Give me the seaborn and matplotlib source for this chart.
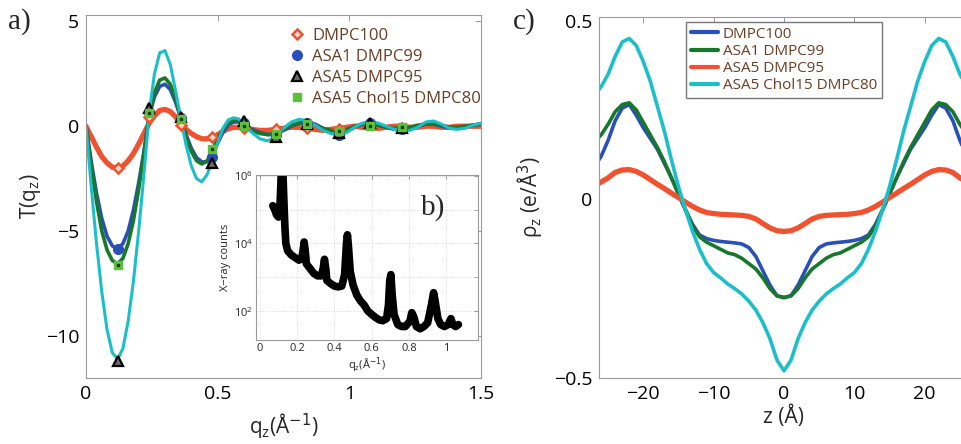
import numpy as np
import pandas as pd
import seaborn as sns
import matplotlib
matplotlib.use("Agg")
from matplotlib import pyplot as plt
from matplotlib.ticker import FixedLocator, NullFormatter

# ---------------- panel a: T(qz) ----------------
q_a = [0.00, 0.02, 0.04, 0.06, 0.08, 0.10, 0.12, 0.14, 0.16, 0.18, 0.20, 0.22, 0.24, 0.26, 0.28, 0.30,
       0.32, 0.34, 0.36, 0.38, 0.40, 0.42, 0.44, 0.46, 0.48, 0.50, 0.52, 0.54, 0.56, 0.58, 0.60,
       0.63, 0.66, 0.69, 0.72, 0.75, 0.78, 0.81, 0.84, 0.87, 0.90, 0.93, 0.96, 0.99, 1.02, 1.05,
       1.08, 1.11, 1.14, 1.17, 1.20, 1.23, 1.26, 1.29, 1.32, 1.35, 1.38, 1.41, 1.44, 1.47, 1.50]

T_orange = [0, -0.5, -1.0, -1.45, -1.75, -1.95, -2.0, -1.9, -1.65, -1.3, -0.85, -0.35, 0.15, 0.5, 0.75, 0.8,
            0.7, 0.45, 0.1, -0.15, -0.35, -0.5, -0.6, -0.6, -0.55, -0.4, -0.25, -0.12, -0.05, -0.05, -0.1,
            -0.15, -0.2, -0.2, -0.15, -0.1, -0.05, -0.05, -0.1, -0.15, -0.2, -0.15, -0.1, -0.05, 0.0, -0.05,
            -0.1, -0.1, -0.05, 0.0, 0.0, -0.05, -0.05, 0.0, 0.0, -0.05, -0.05, 0.0, 0.0, 0.0, 0.0]
T_blue = [0, -1.7, -3.2, -4.4, -5.25, -5.7, -5.85, -5.6, -5.0, -4.0, -2.7, -1.2, 0.5, 1.4, 1.9, 2.0,
          1.75, 1.15, 0.4, -0.4, -1.05, -1.5, -1.7, -1.7, -1.35, -0.8, -0.3, 0.05, 0.2, 0.2, 0.05,
          -0.15, -0.3, -0.4, -0.4, -0.2, 0.0, 0.15, 0.2, 0.1, -0.1, -0.3, -0.4, -0.25, -0.05, 0.1,
          0.15, 0.05, -0.05, -0.15, -0.2, -0.15, 0.0, 0.1, 0.1, 0.0, -0.1, -0.1, -0.05, 0.05, 0.1]
T_green = [0, -1.9, -3.6, -5.0, -5.9, -6.4, -6.55, -6.3, -5.6, -4.5, -3.0, -1.3, 0.55, 1.6, 2.2, 2.3,
           2.0, 1.3, 0.4, -0.5, -1.2, -1.65, -1.8, -1.65, -1.15, -0.6, -0.15, 0.15, 0.3, 0.25, 0.05,
           -0.2, -0.35, -0.4, -0.35, -0.15, 0.05, 0.15, 0.15, 0.05, -0.1, -0.2, -0.25, -0.15, 0.0, 0.1,
           0.1, 0.05, -0.05, -0.1, -0.1, -0.05, 0.05, 0.1, 0.1, 0.05, -0.05, -0.05, 0.0, 0.05, 0.1]
T_cyan = [0, -2.9, -5.6, -7.9, -9.7, -10.8, -11.1, -10.6, -9.3, -7.4, -5.0, -2.3, 0.65, 2.5, 3.5, 3.6,
          2.95, 1.7, 0.35, -0.9, -1.9, -2.5, -2.65, -2.3, -1.6, -0.8, -0.1, 0.3, 0.4, 0.35, 0.05,
          -0.3, -0.6, -0.7, -0.5, -0.1, 0.2, 0.33, 0.25, 0.05, -0.2, -0.35, -0.42, -0.3, -0.05, 0.15,
          0.2, 0.15, 0.0, -0.15, -0.2, -0.2, -0.05, 0.2, 0.25, 0.1, -0.1, -0.15, -0.1, 0.05, 0.15]

# sampled points (markers)
q_mk = [0.12, 0.24, 0.36, 0.48, 0.60, 0.72, 0.84, 0.96, 1.08, 1.20]
mk_dmpc100 = [-2.0, 0.45, 0.05, -0.5, -0.1, -0.15, -0.1, -0.15]
mk_asa1 = [-5.85, 0.7, 0.4, -1.45, 0.15, -0.4, 0.15, -0.4, 0.15, -0.15]
mk_asa5 = [-11.2, 0.85, 0.45, -1.75, 0.25, -0.5, 0.1, -0.3, 0.15, -0.1]
mk_chol = [-6.6, 0.65, 0.35, -1.1, 0.0, -0.35, 0.1, -0.25, 0.0, -0.05]

# ---------------- panel b: X-ray counts ----------------
q_b = [0.07, 0.08, 0.09, 0.10, 0.105, 0.11, 0.115, 0.12, 0.125, 0.13, 0.135, 0.14, 0.15, 0.17, 0.19,
       0.21, 0.225, 0.232, 0.238, 0.244, 0.25, 0.27, 0.29, 0.31, 0.33, 0.34, 0.347, 0.354, 0.36,
       0.38, 0.40, 0.42, 0.44, 0.455, 0.465, 0.47, 0.475, 0.485, 0.50, 0.52, 0.54, 0.56, 0.58,
       0.60, 0.62, 0.64, 0.66, 0.68, 0.69, 0.697, 0.703, 0.71, 0.72, 0.74, 0.76, 0.78, 0.805,
       0.815, 0.825, 0.84, 0.86, 0.88, 0.90, 0.92, 0.932, 0.94, 0.955, 0.97, 0.99, 1.01, 1.025,
       1.035, 1.05, 1.065]
counts_b = [1.3e5, 1.0e5, 7e4, 6e4, 8e4, 2e5, 1e6, 3e6, 1e6, 1.5e5, 3e4, 1e4, 6e3, 4.5e3, 3.8e3,
            3.2e3, 3.5e3, 6e3, 1.1e4, 6e3, 2.5e3, 1.8e3, 1.3e3, 1.1e3, 1.1e3, 1.8e3, 3.4e3, 1.8e3, 8e2,
            6.5e2, 5.5e2, 5.2e2, 5.5e2, 1.2e3, 1.0e4, 1.8e4, 9e3, 1.5e3, 6e2, 3e2, 2e2, 1.5e2, 1.0e2,
            80, 65, 55, 52, 60, 1.5e2, 8e2, 1.2e3, 3e2, 80, 40, 35, 35, 50,
            90, 70, 35, 30, 35, 45, 1.5e2, 3.5e2, 2e2, 60, 40, 35, 40, 60,
            40, 35, 40]

# ---------------- panel c: electron density ----------------
z_c = list(range(-27, 28))
rho_blue = [0.09, 0.12, 0.165, 0.22, 0.255, 0.265, 0.235, 0.2, 0.17, 0.14, 0.1, 0.06, 0.015, -0.03,
            -0.07, -0.1, -0.11, -0.115, -0.118, -0.12, -0.122, -0.125, -0.135, -0.16, -0.2, -0.24, -0.27,
            -0.275,
            -0.27, -0.24, -0.2, -0.16, -0.135, -0.125, -0.122, -0.12, -0.118, -0.115, -0.11, -0.1, -0.07,
            -0.03, 0.015, 0.06, 0.1, 0.14, 0.17, 0.2, 0.235, 0.265, 0.255, 0.22, 0.165, 0.12, 0.09]
rho_green = [0.16, 0.18, 0.21, 0.245, 0.265, 0.27, 0.25, 0.215, 0.18, 0.145, 0.105, 0.06, 0.015, -0.03,
             -0.075, -0.105, -0.12, -0.13, -0.14, -0.15, -0.155, -0.165, -0.18, -0.195, -0.22, -0.25, -0.27,
             -0.275,
             -0.27, -0.25, -0.22, -0.195, -0.18, -0.165, -0.155, -0.15, -0.14, -0.13, -0.12, -0.105, -0.075,
             -0.03, 0.015, 0.06, 0.105, 0.145, 0.18, 0.215, 0.25, 0.27, 0.265, 0.245, 0.21, 0.18, 0.16]
rho_orange = [0.04, 0.048, 0.06, 0.075, 0.082, 0.083, 0.078, 0.068, 0.055, 0.042, 0.03, 0.017, 0.005, -0.008,
              -0.02, -0.03, -0.037, -0.04, -0.042, -0.043, -0.044, -0.045, -0.048, -0.055, -0.068, -0.08,
              -0.088, -0.09,
              -0.088, -0.08, -0.068, -0.055, -0.048, -0.045, -0.044, -0.043, -0.042, -0.04, -0.037, -0.03,
              -0.02, -0.008, 0.005, 0.017, 0.03, 0.042, 0.055, 0.068, 0.078, 0.083, 0.082, 0.075, 0.06,
              0.048, 0.04]
rho_cyan = [0.29, 0.315, 0.35, 0.40, 0.44, 0.45, 0.43, 0.385, 0.33, 0.26, 0.19, 0.11, 0.035, -0.03,
            -0.09, -0.14, -0.18, -0.205, -0.22, -0.237, -0.25, -0.265, -0.285, -0.31, -0.345, -0.39, -0.45,
            -0.48,
            -0.45, -0.39, -0.345, -0.31, -0.285, -0.265, -0.25, -0.237, -0.22, -0.205, -0.18, -0.14, -0.09,
            -0.03, 0.035, 0.11, 0.19, 0.26, 0.33, 0.385, 0.43, 0.45, 0.44, 0.40, 0.35, 0.315, 0.29]

labels = ["DMPC100", "ASA1 DMPC99", "ASA5 DMPC95", "ASA5 Chol15 DMPC80"]
c_orange = "#f0512e"
c_blue = "#2b4fb8"
c_green = "#17782b"
c_cyan = "#1cbfc9"
txt_brown = "#6b3d22"

sns.set_style("white")
plt.rcParams['font.family'] = ['Open Sans', 'DejaVu Sans']
plt.rcParams['axes.unicode_minus'] = True

fig = plt.figure(figsize=(9.62, 4.44), dpi=100)
W, H = 962.0, 444.0
ax_a = fig.add_axes([86 / W, (H - 378) / H, (481 - 86) / W, (378 - 15) / H])
ax_b = fig.add_axes([256 / W, (H - 340) / H, (478 - 256) / W, (340 - 175) / H])
ax_c = fig.add_axes([599 / W, (H - 378) / H, (969 - 599) / W, (378 - 17) / H])


def matlab_axes(ax, size=14):
    for s in ax.spines.values():
        s.set_color("#9a9a9a")
        s.set_linewidth(0.8)
    ax.tick_params(direction="in", top=True, right=True, length=4, width=0.7,
                   color="#9a9a9a", labelsize=size, labelcolor="black", pad=5)


# ----- panel a -----
df_a = pd.DataFrame({"q": q_a * 4,
                     "T": T_orange + T_blue + T_green + T_cyan,
                     "s": ["o"] * len(q_a) + ["b"] * len(q_a) + ["g"] * len(q_a) + ["c"] * len(q_a)})
sns.lineplot(data=df_a, x="q", y="T", hue="s", palette={"o": c_orange, "b": c_blue, "g": c_green, "c": c_cyan},
             size="s", sizes={"o": 3.8, "b": 2.6, "g": 2.6, "c": 2.2}, estimator=None, sort=False,
             legend=False, ax=ax_a)

ax_a.plot(q_mk[:len(mk_dmpc100)], mk_dmpc100, ls="none", marker="D", ms=5, mfc="#ffd9c8",
          mec=c_orange, mew=1.8, label=labels[0])
ax_a.plot(q_mk, mk_asa1, ls="none", marker="o", ms=7, mfc=c_blue, mec=c_blue, label=labels[1])
ax_a.plot(q_mk, mk_asa5, ls="none", marker="^", ms=6.5, mfc="#6a6a6a", mec="black", mew=1.6, label=labels[2])
ax_a.plot(q_mk, mk_chol, ls="none", marker="s", ms=6, mfc="#5cc03c", mec="#5cc03c", label=labels[3])
ax_a.plot(q_mk, mk_chol, ls="none", marker="s", ms=1.6, mfc="#1d3d10", mec="#1d3d10")

ax_a.set_xlim(0, 1.5)
ax_a.set_ylim(-12, 5.3)
ax_a.set_xticks([0, 0.5, 1, 1.5])
ax_a.set_xticklabels(["0", "0.5", "1", "1.5"])
ax_a.set_yticks([-10, -5, 0, 5])
matlab_axes(ax_a)
ax_a.set_xlabel("q$_\\mathregular{z}$(Å$^{-1}$)", fontsize=15, labelpad=6)
ax_a.set_ylabel("T(q$_\\mathregular{z}$)", fontsize=15, labelpad=2)
leg_a = ax_a.legend(loc="upper left", bbox_to_anchor=(0.48, 1.0), frameon=False, fontsize=12,
                    handlelength=1.0, handletextpad=0.4, labelspacing=0.3, borderaxespad=0.4)
for t in leg_a.get_texts():
    t.set_color(txt_brown)

# ----- panel b (inset) -----
df_b = pd.DataFrame({"q": q_b, "counts": counts_b})
sns.lineplot(data=df_b, x="q", y="counts", color="black", lw=5.5, estimator=None, sort=False, ax=ax_b)
ax_b.set_yscale("log")
ax_b.set_xlim(-0.02, 1.17)
ax_b.set_ylim(14, 1.05e6)
ax_b.set_xticks([0, 0.2, 0.4, 0.6, 0.8, 1.0])
ax_b.set_xticklabels(["0", "0.2", "0.4", "0.6", "0.8", "1"])
ax_b.yaxis.set_major_locator(FixedLocator([1e2, 1e4, 1e6]))
ax_b.yaxis.set_minor_locator(FixedLocator([1e3, 1e5]))
ax_b.yaxis.set_minor_formatter(NullFormatter())
ax_b.grid(True, which="both", color="#cfcfcf", lw=0.6, ls=":")
for s in ax_b.spines.values():
    s.set_color("#9a9a9a")
    s.set_linewidth(0.8)
ax_b.tick_params(which="both", direction="in", top=True, right=True, length=3, color="#9a9a9a",
                 labelsize=8, pad=2)
ax_b.set_xlabel("q$_\\mathregular{z}$(Å$^{-1}$)", fontsize=8, labelpad=1)
ax_b.set_ylabel("X−ray counts", fontsize=8, labelpad=2)
ax_b.text(0.80, 0.80, "b)", transform=ax_b.transAxes, fontsize=21, family="Liberation Serif",
          ha="center", va="center")

# ----- panel c -----
df_c = pd.DataFrame({"z": z_c * 4,
                     "rho": rho_blue + rho_green + rho_orange + rho_cyan,
                     "sample": [labels[0]] * len(z_c) + [labels[1]] * len(z_c)
                               + [labels[2]] * len(z_c) + [labels[3]] * len(z_c)})
sns.lineplot(data=df_c, x="z", y="rho", hue="sample", hue_order=labels,
             palette=[c_blue, c_green, c_orange, c_cyan], lw=2.6, estimator=None, sort=False, ax=ax_c)
ax_c.lines[2].set_linewidth(3.8)
ax_c.set_xlim(-26.3, 26.3)
ax_c.set_ylim(-0.5, 0.51)
ax_c.set_xticks([-20, -10, 0, 10, 20])
ax_c.set_yticks([-0.5, 0, 0.5])
ax_c.set_yticklabels(["−0.5", "0", "0.5"])
matlab_axes(ax_c)
ax_c.set_xlabel("z (Å)", fontsize=15, labelpad=2)
ax_c.set_ylabel("ρ$_\\mathregular{z}$ (e/Å$^3$)", fontsize=15, labelpad=6)
leg_c = ax_c.legend(loc="upper left", bbox_to_anchor=((686 - 599) / 370, (378 - 22) / 361),
                    borderaxespad=0, fontsize=11, handlelength=1.8, handletextpad=0.3,
                    labelspacing=0.15, borderpad=0.3, fancybox=False, edgecolor="#777777", framealpha=1)
for t in leg_c.get_texts():
    t.set_color(txt_brown)
for h in leg_c.get_lines():
    h.set_linewidth(3)

fig.text(8 / W, 1 - 22 / H, "a)", fontsize=21, family="Liberation Serif", va="center", ha="left")
fig.text(513 / W, 1 - 22 / H, "c)", fontsize=21, family="Liberation Serif", va="center", ha="left")

fig.savefig("out.png", dpi=100)
